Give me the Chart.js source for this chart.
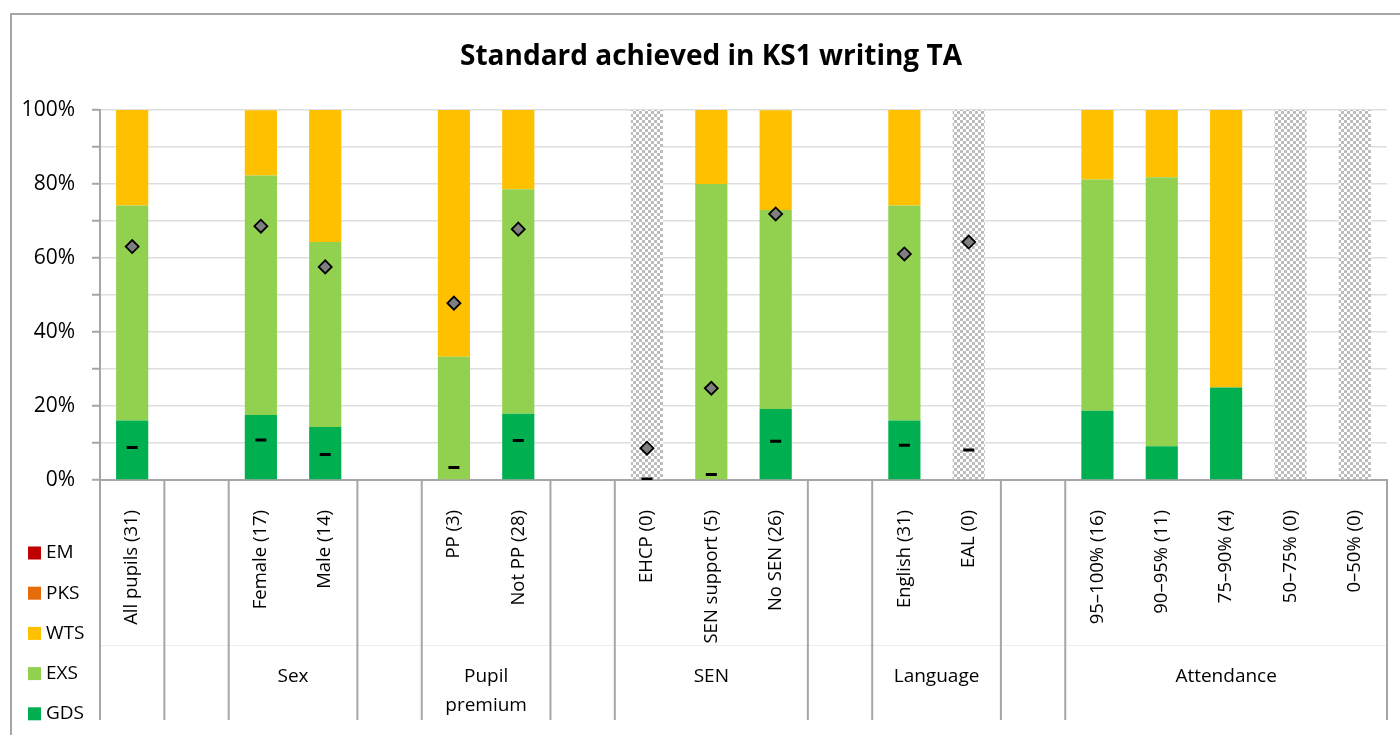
<!DOCTYPE html>
<html>
<head>
<meta charset="utf-8">
<script src="https://cdn.jsdelivr.net/npm/chart.js@4"></script>
<style>
  html, body { margin: 0; padding: 0; background: #fff; }
  #wrap { width: 1400px; height: 735px; position: relative; }
</style>
</head>
<body>
<div id="wrap"><canvas id="ks1Chart" width="1400" height="735"></canvas></div>
<script>
// categorías (los huecos vacíos separan los grupos)
const categories = ['All pupils (31)', '', 'Female (17)', 'Male (14)', '', 'PP (3)', 'Not PP (28)', '',
    'EHCP (0)', 'SEN support (5)', 'No SEN (26)', '', 'English (31)', 'EAL (0)', '',
    '95\u2013100% (16)', '90\u201395% (11)', '75\u201390% (4)', '50\u201375% (0)', '0\u201350% (0)'];

// grupos del segundo nivel del eje
const groups = [
    { label: '', from: 0, to: 0 },
    { label: '', from: 1, to: 1 },
    { label: 'Sex', from: 2, to: 3 },
    { label: '', from: 4, to: 4 },
    { label: ['Pupil', 'premium'], from: 5, to: 6 },
    { label: '', from: 7, to: 7 },
    { label: 'SEN', from: 8, to: 10 },
    { label: '', from: 11, to: 11 },
    { label: 'Language', from: 12, to: 13 },
    { label: '', from: 14, to: 14 },
    { label: 'Attendance', from: 15, to: 19 }
];

// porcentajes por nivel
const gds = [16.1, null, 17.6, 14.3, null, 0, 17.9, null, 0, 0, 19.2, null, 16.1, 0, null, 18.75, 9.1, 25, 0, 0];
const exs = [58.1, null, 64.7, 50.0, null, 33.3, 60.7, null, 0, 80, 53.8, null, 58.1, 0, null, 62.5, 72.7, 0, 0, 0];
const wts = [25.8, null, 17.6, 35.7, null, 66.7, 21.4, null, 0, 20, 26.9, null, 25.8, 0, null, 18.75, 18.2, 75, 0, 0];
const pks = [0, null, 0, 0, null, 0, 0, null, 0, 0, 0, null, 0, 0, null, 0, 0, 0, 0, 0];
const em  = [0, null, 0, 0, null, 0, 0, null, 0, 0, 0, null, 0, 0, null, 0, 0, 0, 0, 0];
// sin alumnos: barra punteada gris
const noPupils = [0, null, 0, 0, null, 0, 0, null, 100, 0, 0, null, 0, 100, null, 0, 0, 0, 100, 100];

// marcadores de comparación (rombo = EXS+, guion = GDS)
const diamondVals = [63.1, null, 68.6, 57.6, null, 47.8, 67.8, null, 8.6, 24.8, 71.9, null, 61.1, 64.3, null, null, null, null, null, null];
const dashVals    = [8.8, null, 10.8, 6.9, null, 3.4, 10.7, null, 0.3, 1.5, 10.5, null, 9.4, 8.1, null, null, null, null, null, null];

const yTicks = [0, 20, 40, 60, 80, 100];

const legendItems = [
    { label: 'EM', color: '#C00000' },
    { label: 'PKS', color: '#E46C0A' },
    { label: 'WTS', color: '#FFC000' },
    { label: 'EXS', color: '#92D050' },
    { label: 'GDS', color: '#00B050' }
];

const chartTitle = 'Standard achieved in KS1 writing TA';

const FONT = "'Open Sans', 'Noto Sans', sans-serif";

// patrón punteado para las barras sin datos
function makePattern() {
    const c = document.createElement('canvas');
    c.width = 6; c.height = 6;
    const g = c.getContext('2d');
    g.fillStyle = '#ffffff';
    g.fillRect(0, 0, 6, 6);
    g.fillStyle = '#bdbdbd';
    g.fillRect(0, 0, 3, 3);
    g.fillRect(3, 3, 3, 3);
    return g.createPattern(c, 'repeat');
}

const colorOf = name => legendItems.find(d => d.label === name).color;

// dibuja borde, título, líneas de grupo, etiquetas de grupo y leyenda
const extrasPlugin = {
    id: 'extras',
    beforeDraw(chart) {
        const ctx = chart.ctx;
        ctx.save();
        ctx.fillStyle = '#fff';
        ctx.fillRect(0, 0, chart.width, chart.height);
        ctx.strokeStyle = '#a6a6a6';
        ctx.lineWidth = 2;
        ctx.strokeRect(11, 14, 1400, 800);
        // título
        ctx.fillStyle = '#000';
        ctx.font = 'bold 28px ' + FONT;
        ctx.textAlign = 'center';
        ctx.textBaseline = 'middle';
        ctx.fillText(chartTitle, 711, 57);
        ctx.restore();
    },
    afterDraw(chart) {
        const ctx = chart.ctx;
        const x = chart.scales.x;
        const area = chart.chartArea;
        const step = x.getPixelForTick(1) - x.getPixelForTick(0);
        const bottom = 720;
        ctx.save();
        // línea separadora tenue entre niveles
        ctx.strokeStyle = '#ececec';
        ctx.lineWidth = 1;
        ctx.beginPath();
        ctx.moveTo(area.left, 645.5);
        ctx.lineTo(area.right, 645.5);
        ctx.stroke();

        ctx.strokeStyle = '#a6a6a6';
        ctx.lineWidth = 2;
        groups.forEach((grp, i) => {
            const left = x.getPixelForTick(grp.from) - step / 2;
            const right = x.getPixelForTick(grp.to) + step / 2;
            ctx.beginPath();
            ctx.moveTo(left, area.bottom);
            ctx.lineTo(left, bottom);
            ctx.stroke();
            if (i === groups.length - 1) {
                ctx.beginPath();
                ctx.moveTo(right, area.bottom);
                ctx.lineTo(right, bottom);
                ctx.stroke();
            }
            const lines = Array.isArray(grp.label) ? grp.label : [grp.label];
            ctx.fillStyle = '#000';
            ctx.font = '19px ' + FONT;
            ctx.textAlign = 'center';
            ctx.textBaseline = 'middle';
            lines.forEach((t, k) => ctx.fillText(t, (left + right) / 2, 677 + k * 29));
        });

        // leyenda
        ctx.font = '19px ' + FONT;
        ctx.textAlign = 'left';
        ctx.textBaseline = 'middle';
        legendItems.forEach((it, k) => {
            const cy = 553 + k * 40.2;
            ctx.fillStyle = it.color;
            ctx.fillRect(28, cy - 6.5, 13, 13);
            ctx.fillStyle = '#000';
            ctx.fillText(it.label, 46, cy);
        });
        ctx.restore();
    }
};

const hatch = makePattern();

new Chart(document.getElementById('ks1Chart'), {
    type: 'bar',
    data: {
        labels: categories,
        datasets: [
            { type: 'line', label: 'Diamond', data: diamondVals, stack: 'd1', showLine: false,
              pointStyle: 'rectRot', pointRadius: 6.5, pointBackgroundColor: '#7f7f7f',
              pointBorderColor: '#000', pointBorderWidth: 1.8, order: 0 },
            { type: 'line', label: 'Dash', data: dashVals, stack: 'd2', showLine: false,
              pointStyle: 'line', pointRadius: 5.5, pointBorderColor: '#000',
              pointBorderWidth: 3, order: 0 },
            { label: 'GDS', data: gds, backgroundColor: colorOf('GDS'), stack: 'bars', order: 1 },
            { label: 'EXS', data: exs, backgroundColor: colorOf('EXS'), stack: 'bars', order: 1 },
            { label: 'WTS', data: wts, backgroundColor: colorOf('WTS'), stack: 'bars', order: 1 },
            { label: 'PKS', data: pks, backgroundColor: colorOf('PKS'), stack: 'bars', order: 1 },
            { label: 'EM', data: em, backgroundColor: colorOf('EM'), stack: 'bars', order: 1 },
            { label: 'No pupils', data: noPupils, backgroundColor: hatch, stack: 'bars', order: 1 }
        ]
    },
    options: {
        responsive: false,
        animation: false,
        layout: { padding: { left: 12, right: 13, top: 110, bottom: 15 } },
        datasets: { bar: { barPercentage: 0.5, categoryPercentage: 1.0, borderWidth: 0 } },
        scales: {
            x: {
                stacked: true,
                grid: { display: false },
                border: { display: true, color: '#a6a6a6', width: 2 },
                ticks: {
                    autoSkip: false, minRotation: 90, maxRotation: 90, padding: 22,
                    color: '#000', font: { family: FONT, size: 18.5 }
                },
                afterFit: s => { s.height = 240; }
            },
            y: {
                stacked: true,
                min: 0, max: 100,
                afterBuildTicks: s => {
                    s.ticks = [];
                    for (let v = 0; v <= 100; v += 10) s.ticks.push({ value: v });
                },
                ticks: {
                    padding: 17, color: '#000', font: { family: FONT, size: 21 },
                    callback: v => yTicks.includes(v) ? v + '%' : ''
                },
                grid: { color: '#dedede', lineWidth: 1.5, tickLength: 8, tickColor: '#a6a6a6', tickWidth: 2 },
                border: { color: '#a6a6a6', width: 2 },
                afterFit: s => { s.width = 88; }
            }
        },
        plugins: {
            legend: { display: false },
            tooltip: { enabled: false },
            title: { display: false }
        }
    },
    plugins: [extrasPlugin]
});
</script>
</body>
</html>
